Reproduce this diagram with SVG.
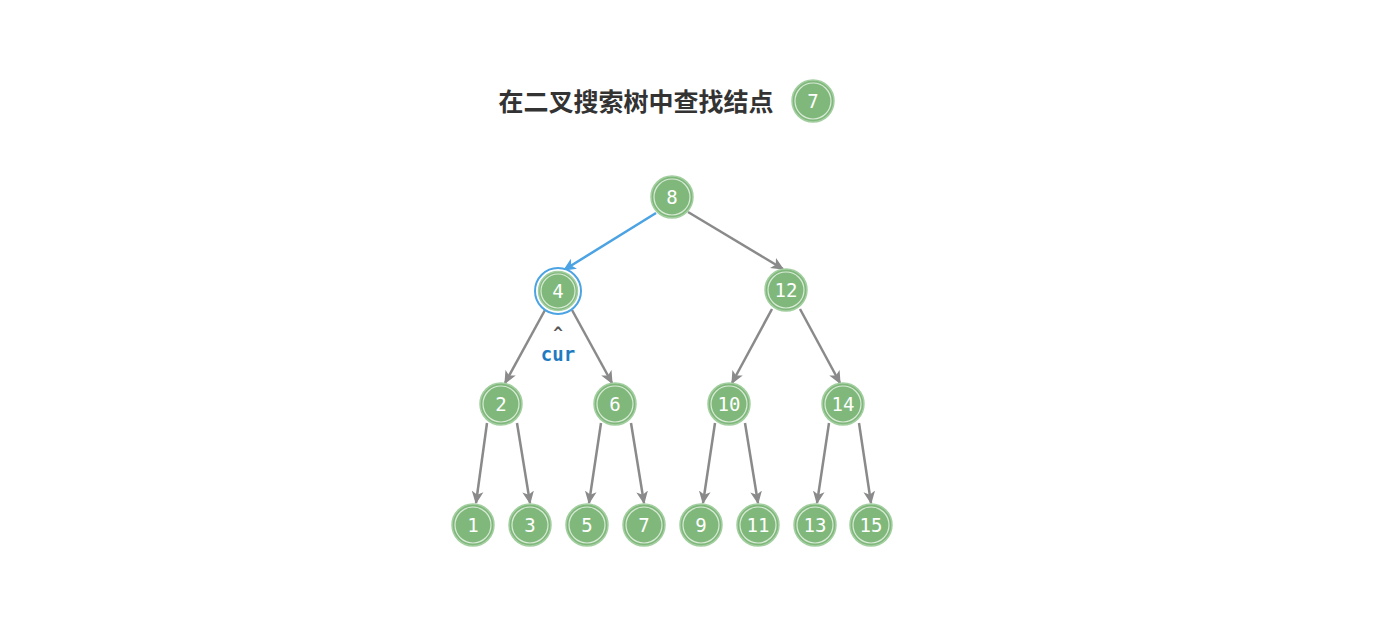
<svg xmlns="http://www.w3.org/2000/svg" width="1374" height="638" viewBox="0 0 1374 638">
<defs>
<style>
.n circle.o{fill:#80b87c;stroke:#a3cfa0;stroke-width:1.5}
.n circle.i{fill:none;stroke:#e8f3e6;stroke-width:1.2;opacity:.85}
.n text{font-family:"DejaVu Sans Mono","Liberation Mono",monospace;font-size:19px;fill:#fff;text-anchor:middle;dominant-baseline:central}
.e{stroke:#8a8a8a;stroke-width:2.5;fill:none;marker-end:url(#ag)}
.eb{stroke:#4ba3e3;stroke-width:2.5;fill:none;marker-end:url(#ab)}
</style>
<marker id="ag" viewBox="0 0 10 10" refX="9" refY="5" markerWidth="13" markerHeight="13" orient="auto" markerUnits="userSpaceOnUse">
<path d="M0,0.5 L10,5 L0,9.5 L2.5,5 Z" fill="#8a8a8a"/>
</marker>
<marker id="ab" viewBox="0 0 10 10" refX="9" refY="5" markerWidth="13" markerHeight="13" orient="auto" markerUnits="userSpaceOnUse">
<path d="M0,0.5 L10,5 L0,9.5 L2.5,5 Z" fill="#4ba3e3"/>
</marker>
</defs>
<rect width="1374" height="638" fill="#fff"/>
<text x="636" y="100" font-family="'Noto Sans CJK SC',sans-serif" font-weight="bold" font-size="25" fill="#333" text-anchor="middle" dominant-baseline="central">在二叉搜索树中查找结点</text>
<g id="title-node" class="n"><circle class="o" cx="813" cy="101" r="21"/><circle class="i" cx="813" cy="101" r="18"/><text x="813" y="101">7</text></g>
<g id="connectors">
<line class="eb" x1="656" y1="213" x2="564" y2="270"/>
<line class="e" x1="688" y1="212" x2="783" y2="269"/>
<line class="e" x1="545" y1="310" x2="505" y2="383"/>
<line class="e" x1="572" y1="310" x2="612" y2="383"/>
<line class="e" x1="772" y1="309" x2="732" y2="383"/>
<line class="e" x1="800" y1="309" x2="840" y2="383"/>
<line class="e" x1="487" y1="423" x2="476" y2="503"/>
<line class="e" x1="517" y1="423" x2="530" y2="503"/>
<line class="e" x1="601" y1="423" x2="589" y2="503"/>
<line class="e" x1="631" y1="423" x2="644" y2="503"/>
<line class="e" x1="715" y1="423" x2="703" y2="503"/>
<line class="e" x1="745" y1="423" x2="758" y2="503"/>
<line class="e" x1="829" y1="423" x2="817" y2="503"/>
<line class="e" x1="859" y1="423" x2="871" y2="503"/>
</g>
<g id="n8" class="n"><circle class="o" cx="672" cy="197" r="21"/><circle class="i" cx="672" cy="197" r="18"/><text x="672" y="197">8</text></g>
<g id="n4" class="n"><circle cx="558" cy="291" r="23" fill="#fff" stroke="#4ba3e3" stroke-width="2"/><circle class="o" cx="558" cy="291" r="19.5"/><circle class="i" cx="558" cy="291" r="17"/><text x="558" y="291">4</text></g>
<g id="n12" class="n"><circle class="o" cx="786" cy="290" r="21"/><circle class="i" cx="786" cy="290" r="18"/><text x="786" y="290">12</text></g>
<g id="n2" class="n"><circle class="o" cx="501" cy="404" r="21"/><circle class="i" cx="501" cy="404" r="18"/><text x="501" y="404">2</text></g>
<g id="n6" class="n"><circle class="o" cx="615" cy="404" r="21"/><circle class="i" cx="615" cy="404" r="18"/><text x="615" y="404">6</text></g>
<g id="n10" class="n"><circle class="o" cx="729" cy="404" r="21"/><circle class="i" cx="729" cy="404" r="18"/><text x="729" y="404">10</text></g>
<g id="n14" class="n"><circle class="o" cx="843" cy="404" r="21"/><circle class="i" cx="843" cy="404" r="18"/><text x="843" y="404">14</text></g>
<g id="n1" class="n"><circle class="o" cx="473" cy="525" r="21"/><circle class="i" cx="473" cy="525" r="18"/><text x="473" y="525">1</text></g>
<g id="n3" class="n"><circle class="o" cx="530" cy="525" r="21"/><circle class="i" cx="530" cy="525" r="18"/><text x="530" y="525">3</text></g>
<g id="n5" class="n"><circle class="o" cx="587" cy="525" r="21"/><circle class="i" cx="587" cy="525" r="18"/><text x="587" y="525">5</text></g>
<g id="n7" class="n"><circle class="o" cx="644" cy="525" r="21"/><circle class="i" cx="644" cy="525" r="18"/><text x="644" y="525">7</text></g>
<g id="n9" class="n"><circle class="o" cx="701" cy="525" r="21"/><circle class="i" cx="701" cy="525" r="18"/><text x="701" y="525">9</text></g>
<g id="n11" class="n"><circle class="o" cx="758" cy="525" r="21"/><circle class="i" cx="758" cy="525" r="18"/><text x="758" y="525">11</text></g>
<g id="n13" class="n"><circle class="o" cx="815" cy="525" r="21"/><circle class="i" cx="815" cy="525" r="18"/><text x="815" y="525">13</text></g>
<g id="n15" class="n"><circle class="o" cx="871" cy="525" r="21"/><circle class="i" cx="871" cy="525" r="18"/><text x="871" y="525">15</text></g>
<g id="cur-label">
<text x="558" y="338" font-family="'DejaVu Sans Mono',monospace" font-weight="bold" font-size="16" fill="#555" text-anchor="middle">^</text>
<text x="558" y="361" font-family="'DejaVu Sans Mono',monospace" font-weight="bold" font-size="19" fill="#1f7bc1" text-anchor="middle">cur</text>
</g>
</svg>
